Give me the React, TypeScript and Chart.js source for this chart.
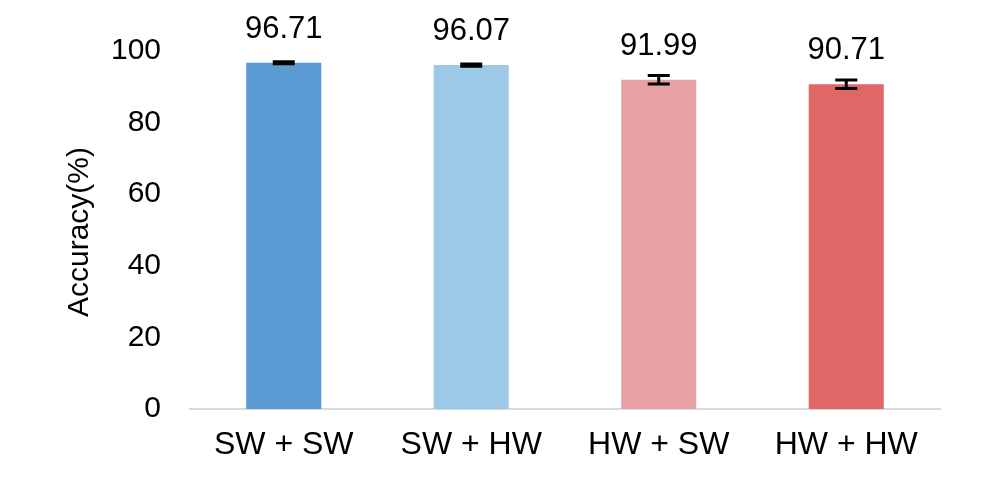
import React, { useEffect, useRef } from "react";
import { Chart, registerables } from "chart.js";

Chart.register(...registerables);

const categories = ["SW + SW", "SW + HW", "HW + SW", "HW + HW"];
const accuracy = [96.71, 96.07, 91.99, 90.71];
const errors = [0.3, 0.3, 1.2, 1.2];
const barColors = ["#5B9BD3", "#9DC9E8", "#E8A1A5", "#DF6866"];
const yTicks = [0, 20, 40, 60, 80, 100];

const FONT = "'Liberation Sans', Arial, sans-serif";

const extrasPlugin = {
  id: "extras",
  afterDatasetsDraw(chart: any) {
    const ctx = chart.ctx;
    const y = chart.scales.y;
    const meta = chart.getDatasetMeta(0);
    ctx.save();
    meta.data.forEach((bar: any, i: number) => {
      const x = bar.x;
      const v = accuracy[i];
      const e = errors[i];
      const top = y.getPixelForValue(v + e);
      const bot = y.getPixelForValue(v - e);
      ctx.strokeStyle = "#000";
      ctx.lineWidth = 3;
      ctx.beginPath();
      ctx.moveTo(x, top);
      ctx.lineTo(x, bot);
      ctx.moveTo(x - 11, top);
      ctx.lineTo(x + 11, top);
      ctx.moveTo(x - 11, bot);
      ctx.lineTo(x + 11, bot);
      ctx.stroke();
      ctx.fillStyle = "#000";
      ctx.font = `31px ${FONT}`;
      ctx.textAlign = "center";
      ctx.textBaseline = "alphabetic";
      ctx.fillText(v.toFixed(2), x, y.getPixelForValue(v) - 25);
    });
    // y axis title
    const area = chart.chartArea;
    ctx.translate(80, (area.top + area.bottom) / 2 + 2);
    ctx.rotate(-Math.PI / 2);
    ctx.font = `30px ${FONT}`;
    ctx.textAlign = "center";
    ctx.textBaseline = "middle";
    ctx.fillText("Accuracy(%)", 0, 0);
    ctx.restore();
  },
};

export default function App() {
  const ref = useRef<HTMLCanvasElement>(null);
  useEffect(() => {
    document.body.style.margin = "0";
    const chart = new Chart(ref.current!, {
      type: "bar",
      data: {
        labels: categories,
        datasets: [
          {
            data: accuracy,
            backgroundColor: barColors,
            categoryPercentage: 1,
            barPercentage: 0.4,
          },
        ],
      },
      options: {
        responsive: false,
        animation: false,
        layout: { padding: { top: 51, right: 50, left: 0, bottom: 0 } },
        plugins: { legend: { display: false }, tooltip: { enabled: false } },
        scales: {
          x: {
            grid: { display: false, drawTicks: false },
            border: { display: true, color: "#D9D9D9", width: 2 },
            ticks: { color: "#000", font: { family: FONT, size: 32 }, padding: 17 },
            afterFit: (s: any) => {
              s.height = 85;
            },
          },
          y: {
            min: 0,
            max: 100,
            grid: { display: false, drawTicks: false },
            border: { display: false },
            afterBuildTicks: (s: any) => {
              s.ticks = yTicks.map((v) => ({ value: v }));
            },
            ticks: { color: "#000", font: { family: FONT, size: 30 }, padding: 29 },
            afterFit: (s: any) => {
              s.width = 190;
            },
          },
        },
      },
      plugins: [extrasPlugin],
    });
    return () => chart.destroy();
  }, []);
  return (
    <div style={{ width: 990, height: 494 }}>
      <canvas ref={ref} width={990} height={494} />
    </div>
  );
}
